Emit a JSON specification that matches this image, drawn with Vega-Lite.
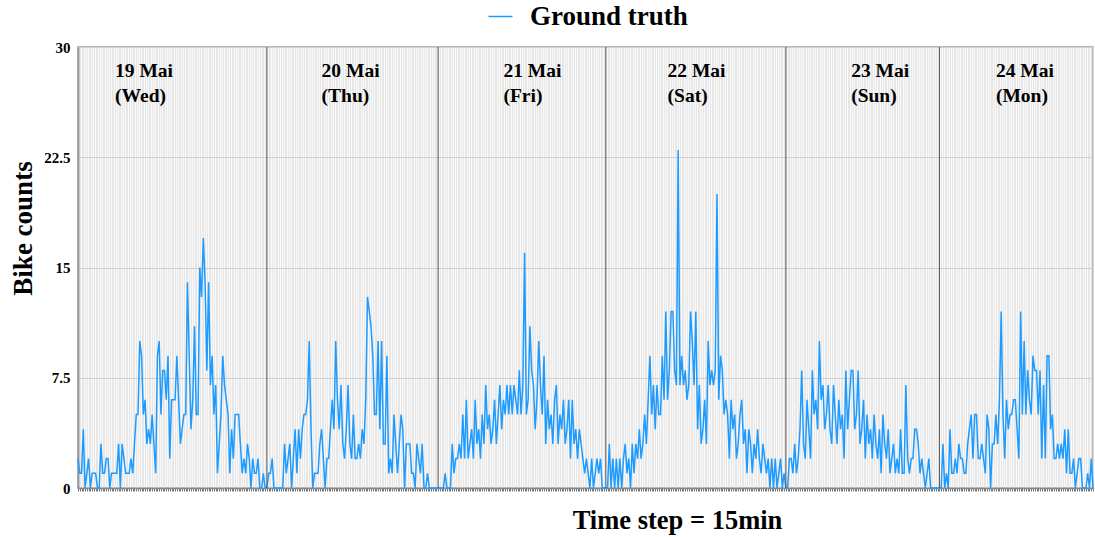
{
"$schema": "https://vega.github.io/schema/vega-lite/v6.json",
"width": 1015, "height": 441,
"autosize": {"type": "none"},
"padding": {"left": 78, "top": 47, "right": 2, "bottom": 49},
"background": "white",
"config": {"view": {"stroke": "#a0a0a0", "strokeWidth": 1.5, "fill": "#f9f9f9"}, "font": "Liberation Serif"},
"datasets": {
"main": [
{"t":0,"v":2},{"t":1,"v":1},{"t":2,"v":1},{"t":3,"v":4},{"t":4,"v":0},{"t":5,"v":1},{"t":6,"v":2},{"t":7,"v":0},{"t":8,"v":1},{"t":9,"v":1},
{"t":10,"v":1},{"t":11,"v":0},{"t":12,"v":0},{"t":13,"v":3},{"t":14,"v":1},{"t":15,"v":1},{"t":16,"v":2},{"t":17,"v":2},{"t":18,"v":0},{"t":19,"v":1},
{"t":20,"v":1},{"t":21,"v":1},{"t":22,"v":1},{"t":23,"v":3},{"t":24,"v":0},{"t":25,"v":3},{"t":26,"v":2},{"t":27,"v":1},{"t":28,"v":1},{"t":29,"v":1},
{"t":30,"v":2},{"t":31,"v":1},{"t":32,"v":3},{"t":33,"v":5},{"t":34,"v":5},{"t":35,"v":10},{"t":36,"v":9},{"t":37,"v":5},{"t":38,"v":6},{"t":39,"v":3},
{"t":40,"v":4},{"t":41,"v":3},{"t":42,"v":5},{"t":43,"v":3},{"t":44,"v":1},{"t":45,"v":9},{"t":46,"v":10},{"t":47,"v":5},{"t":48,"v":8},{"t":49,"v":8},
{"t":50,"v":6},{"t":51,"v":9},{"t":52,"v":2},{"t":53,"v":6},{"t":54,"v":6},{"t":55,"v":6},{"t":56,"v":9},{"t":57,"v":6},{"t":58,"v":3},{"t":59,"v":4},
{"t":60,"v":5},{"t":61,"v":5},{"t":62,"v":14},{"t":63,"v":9},{"t":64,"v":4},{"t":65,"v":6},{"t":66,"v":11},{"t":67,"v":5},{"t":68,"v":5},{"t":69,"v":15},
{"t":70,"v":13},{"t":71,"v":17},{"t":72,"v":14},{"t":73,"v":8},{"t":74,"v":14},{"t":75,"v":7},{"t":76,"v":9},{"t":77,"v":5},{"t":78,"v":7},{"t":79,"v":1},
{"t":80,"v":3},{"t":81,"v":5},{"t":82,"v":9},{"t":83,"v":7},{"t":84,"v":6},{"t":85,"v":5},{"t":86,"v":1},{"t":87,"v":4},{"t":88,"v":2},{"t":89,"v":5},
{"t":90,"v":5},{"t":91,"v":5},{"t":92,"v":3},{"t":93,"v":1},{"t":94,"v":2},{"t":95,"v":1},{"t":96,"v":3},{"t":97,"v":2},{"t":98,"v":0},{"t":99,"v":2},
{"t":100,"v":1},{"t":101,"v":1},{"t":102,"v":2},{"t":103,"v":0},{"t":104,"v":0},{"t":105,"v":1},{"t":106,"v":0},
{"t":107,"v":0},{"t":108,"v":1},{"t":109,"v":1},{"t":110,"v":2},{"t":111,"v":0},{"t":112,"v":0},{"t":113,"v":0},{"t":114,"v":0},{"t":115,"v":0},{"t":116,"v":0},
{"t":117,"v":3},{"t":118,"v":1},{"t":119,"v":2},{"t":120,"v":3},{"t":121,"v":0},{"t":122,"v":2},{"t":123,"v":4},{"t":124,"v":1},{"t":125,"v":4},{"t":126,"v":2},
{"t":127,"v":4},{"t":128,"v":5},{"t":129,"v":5},{"t":130,"v":6},{"t":131,"v":10},{"t":132,"v":4},{"t":133,"v":0},{"t":134,"v":1},{"t":135,"v":1},{"t":136,"v":1},
{"t":137,"v":3},{"t":138,"v":4},{"t":139,"v":2},{"t":140,"v":0},{"t":141,"v":2},{"t":142,"v":2},{"t":143,"v":4},{"t":144,"v":6},{"t":145,"v":4},{"t":146,"v":10},
{"t":147,"v":6},{"t":148,"v":4},{"t":149,"v":7},{"t":150,"v":3},{"t":151,"v":2},{"t":152,"v":4},{"t":153,"v":7},{"t":154,"v":3},{"t":155,"v":2},{"t":156,"v":5},
{"t":157,"v":2},{"t":158,"v":2},{"t":159,"v":3},{"t":160,"v":2},{"t":161,"v":4},{"t":162,"v":3},{"t":163,"v":6},{"t":164,"v":13},{"t":165,"v":12},{"t":166,"v":11},
{"t":167,"v":9},{"t":168,"v":5},{"t":169,"v":5},{"t":170,"v":10},{"t":171,"v":4},{"t":172,"v":10},{"t":173,"v":3},{"t":174,"v":3},{"t":175,"v":9},{"t":176,"v":1},
{"t":177,"v":2},{"t":178,"v":1},{"t":179,"v":5},{"t":180,"v":3},{"t":181,"v":1},{"t":182,"v":3},{"t":183,"v":5},{"t":184,"v":4},{"t":185,"v":0},{"t":186,"v":3},
{"t":187,"v":3},{"t":188,"v":3},{"t":189,"v":1},{"t":190,"v":1},{"t":191,"v":0},{"t":192,"v":3},{"t":193,"v":2},{"t":194,"v":1},{"t":195,"v":3},{"t":196,"v":0},
{"t":197,"v":0},{"t":198,"v":1},{"t":199,"v":0},{"t":200,"v":0},{"t":201,"v":0},{"t":202,"v":0},{"t":203,"v":0},{"t":204,"v":0},
{"t":205,"v":0},{"t":206,"v":0},{"t":207,"v":0},{"t":208,"v":1},{"t":209,"v":0},{"t":210,"v":0},{"t":211,"v":0},{"t":212,"v":3},{"t":213,"v":1},{"t":214,"v":2},
{"t":215,"v":2},{"t":216,"v":3},{"t":217,"v":2},{"t":218,"v":5},{"t":219,"v":2},{"t":220,"v":6},{"t":221,"v":2},{"t":222,"v":3},{"t":223,"v":4},{"t":224,"v":2},
{"t":225,"v":6},{"t":226,"v":3},{"t":227,"v":4},{"t":228,"v":2},{"t":229,"v":5},{"t":230,"v":3},{"t":231,"v":7},{"t":232,"v":4},{"t":233,"v":5},{"t":234,"v":3},
{"t":235,"v":4},{"t":236,"v":6},{"t":237,"v":3},{"t":238,"v":5},{"t":239,"v":7},{"t":240,"v":4},{"t":241,"v":6},{"t":242,"v":5},{"t":243,"v":7},{"t":244,"v":5},
{"t":245,"v":7},{"t":246,"v":5},{"t":247,"v":7},{"t":248,"v":6},{"t":249,"v":5},{"t":250,"v":8},{"t":251,"v":5},{"t":252,"v":7},{"t":253,"v":16},{"t":254,"v":5},
{"t":255,"v":6},{"t":256,"v":11},{"t":257,"v":8},{"t":258,"v":7},{"t":259,"v":4},{"t":260,"v":6},{"t":261,"v":10},{"t":262,"v":7},{"t":263,"v":5},{"t":264,"v":9},
{"t":265,"v":3},{"t":266,"v":6},{"t":267,"v":4},{"t":268,"v":5},{"t":269,"v":3},{"t":270,"v":6},{"t":271,"v":7},{"t":272,"v":3},{"t":273,"v":5},{"t":274,"v":4},
{"t":275,"v":6},{"t":276,"v":3},{"t":277,"v":4},{"t":278,"v":6},{"t":279,"v":2},{"t":280,"v":6},{"t":281,"v":3},{"t":282,"v":4},{"t":283,"v":2},{"t":284,"v":4},
{"t":285,"v":3},{"t":286,"v":2},{"t":287,"v":1},{"t":288,"v":2},{"t":289,"v":1},{"t":290,"v":0},{"t":291,"v":2},{"t":292,"v":0},{"t":293,"v":1},{"t":294,"v":2},
{"t":295,"v":1},{"t":296,"v":2},{"t":297,"v":0},{"t":298,"v":0},
{"t":299,"v":0},{"t":300,"v":0},{"t":301,"v":3},{"t":302,"v":0},{"t":303,"v":2},{"t":304,"v":0},{"t":305,"v":2},{"t":306,"v":0},{"t":307,"v":2},{"t":308,"v":0},
{"t":309,"v":2},{"t":310,"v":3},{"t":311,"v":1},{"t":312,"v":2},{"t":313,"v":0},{"t":314,"v":3},{"t":315,"v":1},{"t":316,"v":3},{"t":317,"v":2},{"t":318,"v":4},
{"t":319,"v":2},{"t":320,"v":3},{"t":321,"v":5},{"t":322,"v":3},{"t":323,"v":6},{"t":324,"v":9},{"t":325,"v":5},{"t":326,"v":7},{"t":327,"v":4},{"t":328,"v":7},
{"t":329,"v":5},{"t":330,"v":5},{"t":331,"v":9},{"t":332,"v":6},{"t":333,"v":12},{"t":334,"v":6},{"t":335,"v":8},{"t":336,"v":12},{"t":337,"v":12},{"t":338,"v":8},
{"t":339,"v":7},{"t":340,"v":23},{"t":341,"v":7},{"t":342,"v":9},{"t":343,"v":7},{"t":344,"v":8},{"t":345,"v":6},{"t":346,"v":7},{"t":347,"v":12},{"t":348,"v":10},
{"t":349,"v":7},{"t":350,"v":12},{"t":351,"v":4},{"t":352,"v":7},{"t":353,"v":3},{"t":354,"v":4},{"t":355,"v":6},{"t":356,"v":3},{"t":357,"v":10},{"t":358,"v":7},
{"t":359,"v":8},{"t":360,"v":7},{"t":361,"v":8},{"t":362,"v":20},{"t":363,"v":6},{"t":364,"v":9},{"t":365,"v":8},{"t":366,"v":5},{"t":367,"v":6},{"t":368,"v":5},
{"t":369,"v":2},{"t":370,"v":6},{"t":371,"v":4},{"t":372,"v":5},{"t":373,"v":2},{"t":374,"v":3},{"t":375,"v":5},{"t":376,"v":6},{"t":377,"v":3},{"t":378,"v":4},
{"t":379,"v":1},{"t":380,"v":4},{"t":381,"v":3},{"t":382,"v":1},{"t":383,"v":3},{"t":384,"v":2},{"t":385,"v":4},{"t":386,"v":2},{"t":387,"v":1},{"t":388,"v":3},
{"t":389,"v":2},{"t":390,"v":1},{"t":391,"v":2},{"t":392,"v":0},{"t":393,"v":2},{"t":394,"v":0},{"t":395,"v":2},{"t":396,"v":0},{"t":397,"v":1},{"t":398,"v":2},
{"t":399,"v":0},{"t":400,"v":1},{"t":401,"v":0},
{"t":402,"v":0},{"t":403,"v":2},{"t":404,"v":2},{"t":405,"v":1},{"t":406,"v":3},{"t":407,"v":1},{"t":408,"v":2},{"t":409,"v":4},{"t":410,"v":8},{"t":411,"v":3},
{"t":412,"v":2},{"t":413,"v":6},{"t":414,"v":4},{"t":415,"v":2},{"t":416,"v":8},{"t":417,"v":5},{"t":418,"v":6},{"t":419,"v":4},{"t":420,"v":10},{"t":421,"v":6},
{"t":422,"v":7},{"t":423,"v":4},{"t":424,"v":5},{"t":425,"v":7},{"t":426,"v":4},{"t":427,"v":3},{"t":428,"v":7},{"t":429,"v":5},{"t":430,"v":3},{"t":431,"v":6},
{"t":432,"v":4},{"t":433,"v":5},{"t":434,"v":2},{"t":435,"v":8},{"t":436,"v":4},{"t":437,"v":6},{"t":438,"v":8},{"t":439,"v":8},{"t":440,"v":4},{"t":441,"v":5},
{"t":442,"v":8},{"t":443,"v":3},{"t":444,"v":4},{"t":445,"v":6},{"t":446,"v":2},{"t":447,"v":5},{"t":448,"v":3},{"t":449,"v":4},{"t":450,"v":2},{"t":451,"v":5},
{"t":452,"v":3},{"t":453,"v":2},{"t":454,"v":4},{"t":455,"v":1},{"t":456,"v":5},{"t":457,"v":3},{"t":458,"v":2},{"t":459,"v":4},{"t":460,"v":1},{"t":461,"v":2},
{"t":462,"v":3},{"t":463,"v":1},{"t":464,"v":2},{"t":465,"v":1},{"t":466,"v":4},{"t":467,"v":1},{"t":468,"v":1},{"t":469,"v":7},{"t":470,"v":2},{"t":471,"v":1},
{"t":472,"v":2},{"t":473,"v":2},{"t":474,"v":4},{"t":475,"v":4},{"t":476,"v":3},{"t":477,"v":1},{"t":478,"v":2},{"t":479,"v":1},{"t":480,"v":0},{"t":481,"v":1},
{"t":482,"v":2},{"t":483,"v":0},{"t":484,"v":0},{"t":485,"v":0},{"t":486,"v":0},{"t":487,"v":0},{"t":488,"v":0},
{"t":489,"v":0},{"t":490,"v":3},{"t":491,"v":0},{"t":492,"v":1},{"t":493,"v":0},{"t":494,"v":4},{"t":495,"v":1},{"t":496,"v":1},{"t":497,"v":2},{"t":498,"v":1},
{"t":499,"v":3},{"t":500,"v":2},{"t":501,"v":2},{"t":502,"v":1},{"t":503,"v":1},{"t":504,"v":3},{"t":505,"v":4},{"t":506,"v":5},{"t":507,"v":2},{"t":508,"v":5},
{"t":509,"v":5},{"t":510,"v":2},{"t":511,"v":2},{"t":512,"v":3},{"t":513,"v":2},{"t":514,"v":1},{"t":515,"v":5},{"t":516,"v":4},{"t":517,"v":0},{"t":518,"v":3},
{"t":519,"v":3},{"t":520,"v":5},{"t":521,"v":3},{"t":522,"v":6},{"t":523,"v":12},{"t":524,"v":5},{"t":525,"v":2},{"t":526,"v":6},{"t":527,"v":4},{"t":528,"v":5},
{"t":529,"v":5},{"t":530,"v":6},{"t":531,"v":6},{"t":532,"v":4},{"t":533,"v":2},{"t":534,"v":12},{"t":535,"v":5},{"t":536,"v":10},{"t":537,"v":5},{"t":538,"v":8},
{"t":539,"v":6},{"t":540,"v":5},{"t":541,"v":9},{"t":542,"v":8},{"t":543,"v":8},{"t":544,"v":5},{"t":545,"v":8},{"t":546,"v":2},{"t":547,"v":7},{"t":548,"v":2},
{"t":549,"v":9},{"t":550,"v":9},{"t":551,"v":4},{"t":552,"v":5},{"t":553,"v":2},{"t":554,"v":2},{"t":555,"v":3},{"t":556,"v":2},{"t":557,"v":3},{"t":558,"v":2},
{"t":559,"v":4},{"t":560,"v":1},{"t":561,"v":4},{"t":562,"v":1},{"t":563,"v":1},{"t":564,"v":2},{"t":565,"v":0},{"t":566,"v":1},{"t":567,"v":2},{"t":568,"v":2},
{"t":569,"v":0},{"t":570,"v":0},{"t":571,"v":0},{"t":572,"v":1},{"t":573,"v":0},{"t":574,"v":2},{"t":575,"v":0}
],
"seps": [{"t":107},{"t":204},{"t":299},{"t":401},{"t":488}],
"days": [
{"t":21,"label":"19 Mai\n(Wed)"},
{"t":138,"label":"20 Mai\n(Thu)"},
{"t":241,"label":"21 Mai\n(Fri)"},
{"t":334,"label":"22 Mai\n(Sat)"},
{"t":438,"label":"23 Mai\n(Sun)"},
{"t":520,"label":"24 Mai\n(Mon)"}
]
},
"layer": [
{
"data": {"name": "main"},
"mark": {"type": "line", "strokeWidth": 1.5, "interpolate": "linear"},
"encoding": {
"x": {"field": "t", "type": "ordinal", "scale": {"type": "point", "padding": 0},
"axis": {"title": "Time step = 15min", "titleFont": "Liberation Serif", "titleFontSize": 26.5, "titleFontWeight": "bold", "titleColor": "black",
"titleX": 599, "titleY": 40, "titleBaseline": "alphabetic", "titleAlign": "center", "labels": false, "ticks": true, "tickSize": 3, "tickColor": "#555", "tickWidth": 0.8,
"domainColor": "#888", "domainWidth": 1.5, "grid": true, "gridColor": "#e2e2e2", "gridWidth": 0.8}},
"y": {"field": "v", "type": "quantitative", "scale": {"domain": [0, 30], "nice": false},
"axis": {"title": "Bike counts", "titleFont": "Liberation Serif", "titleFontSize": 27, "titleFontWeight": "bold", "titleColor": "black",
"titleX": -55, "titleY": 181, "titleAngle": 270, "titleBaseline": "middle", "titleAlign": "center",
"values": [0, 7.5, 15, 22.5, 30], "format": ".1~f", "labelFont": "Liberation Serif", "labelFontSize": 15, "labelFontWeight": "bold", "labelColor": "black", "labelPadding": 8,
"ticks": false, "domainColor": "#999", "domainWidth": 2, "grid": true, "gridColor": "#cfcfcf", "gridWidth": 1}},
"color": {"datum": "Ground truth", "type": "nominal", "scale": {"range": ["#1E9BFF"]},
"legend": {"orient": "none", "legendX": 409, "legendY": -44, "direction": "horizontal", "title": null, "symbolType": "stroke", "symbolSize": 576, "symbolStrokeWidth": 1.5,
"labelFont": "Liberation Serif", "labelFontSize": 27, "labelFontWeight": "bold", "labelColor": "black", "labelOffset": 16}}
}
},
{
"data": {"name": "seps"},
"mark": {"type": "rule", "color": "#555", "strokeWidth": 1},
"encoding": {"x": {"field": "t", "type": "ordinal"}}
},
{
"data": {"name": "days"},
"mark": {"type": "text", "align": "left", "baseline": "alphabetic", "lineBreak": "\n", "fontSize": 19.5, "fontWeight": "bold", "font": "Liberation Serif", "lineHeight": 25, "color": "black"},
"encoding": {"x": {"field": "t", "type": "ordinal"}, "y": {"datum": 27.95}, "text": {"field": "label"}}
}
]
}
